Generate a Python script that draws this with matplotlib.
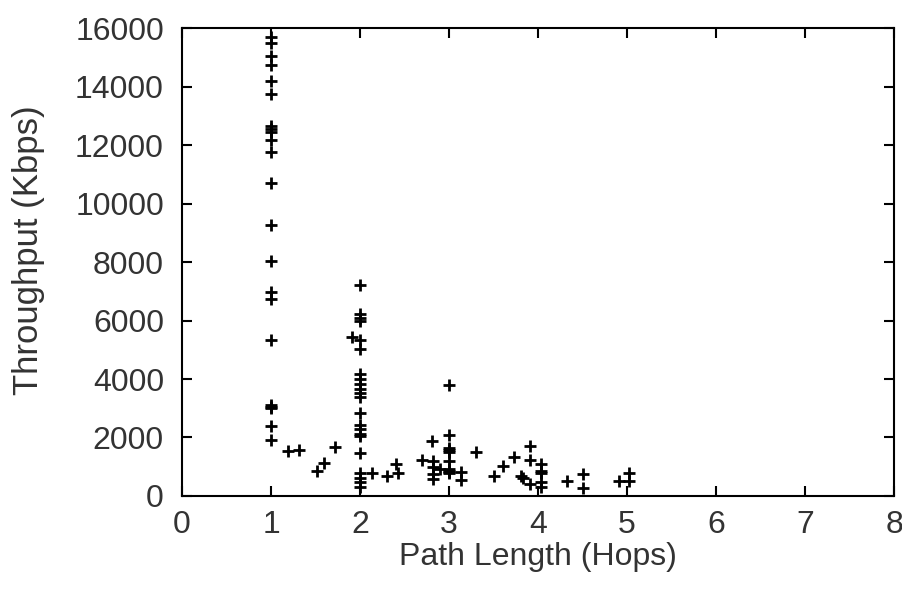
import matplotlib
matplotlib.use('Agg')
import matplotlib.pyplot as plt

plt.rcParams['font.family'] = ['Liberation Sans', 'DejaVu Sans']

# path length (hops) and throughput (Kbps)
hops = [1.0] * 22 + [1.19, 1.31, 1.52, 1.60, 1.72, 1.91] + [2.0] * 22 + \
       [2.13, 2.30, 2.40, 2.43, 2.70, 2.81, 2.82, 2.82, 2.82, 2.82, 2.90] + \
       [3.0] * 10 + \
       [3.13, 3.13, 3.30, 3.51, 3.61, 3.73, 3.81, 3.83, 3.91, 3.91, 3.91] + \
       [4.03] * 5 + [4.33, 4.51, 4.51, 4.91, 5.02, 5.02]

throughput = [15700, 15500, 15050, 14750, 14200, 13750, 12650, 12550, 12450,
              12180, 11750, 10700, 9270, 8030, 6990, 6720, 5350, 3100, 3050,
              3000, 2400, 1900] + \
             [1550, 1580, 870, 1130, 1670, 5420] + \
             [7230, 6240, 6080, 5990, 5340, 5010, 4180, 4000, 3830, 3660,
              3530, 3400, 2850, 2440, 2290, 2130, 2060, 1470, 770, 620, 470,
              320] + \
             [780, 700, 1100, 770, 1240, 1880, 1200, 990, 760, 590, 930] + \
             [3780, 2100, 1650, 1560, 1500, 1210, 930, 870, 810, 770] + \
             [810, 530, 1500, 700, 1040, 1330, 670, 630, 1700, 1240, 420] + \
             [1100, 850, 790, 470, 300] + \
             [510, 740, 280, 500, 780, 500]

fig = plt.figure(figsize=(9.03, 5.98), dpi=100)
ax = fig.add_axes([0.2016, 0.1706, 0.7886, 0.7824])

ax.plot(hops, throughput, linestyle='none', marker='+', color='black',
        markersize=8.5, markeredgewidth=2)

ax.set_xlim(0, 8)
ax.set_ylim(0, 16000)
ax.set_xticks(range(0, 9))
ax.set_yticks(range(0, 16001, 2000))
ax.tick_params(direction='in', top=True, right=True, length=7, width=1.5,
               labelsize=23, colors='black', labelcolor='#333333')
ax.tick_params(axis='x', pad=10)
ax.tick_params(axis='y', pad=13)
for s in ax.spines.values():
    s.set_linewidth(1.5)

ax.set_xlabel('Path Length (Hops)', fontsize=23, color='#333333', labelpad=1.5)
ax.set_ylabel('Throughput (Kbps)', fontsize=25, color='#333333')
ax.yaxis.set_label_coords(-0.192, 0.525)

fig.savefig('out.png', dpi=100)
